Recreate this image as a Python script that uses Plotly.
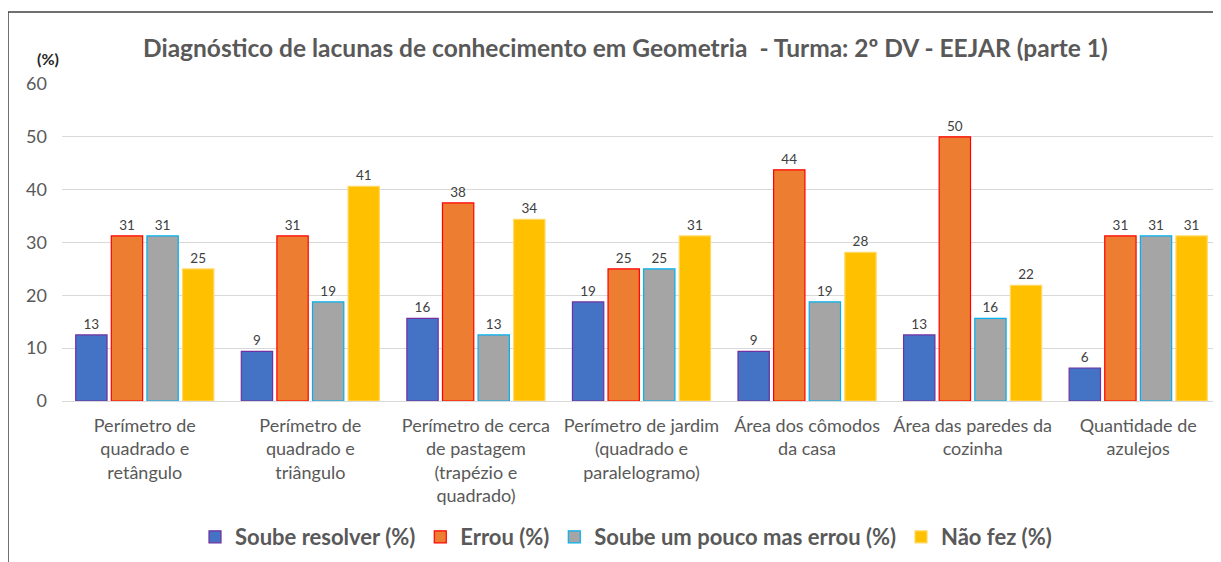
import plotly.graph_objects as go

categories = [
    "Perímetro de<br>quadrado e<br>retângulo",
    "Perímetro de<br>quadrado e<br>triângulo",
    "Perímetro de cerca<br>de pastagem<br>(trapézio e<br>quadrado)",
    "Perímetro de jardim<br>(quadrado e<br>paralelogramo)",
    "Área dos cômodos<br>da casa",
    "Área das paredes da<br>cozinha",
    "Quantidade de<br>azulejos",
]
soube = [12.5, 9.375, 15.625, 18.75, 9.375, 12.5, 6.25]
errou = [31.25, 31.25, 37.5, 25.0, 43.75, 50.0, 31.25]
pouco = [31.25, 18.75, 12.5, 25.0, 18.75, 15.625, 31.25]
naofez = [25.0, 40.625, 34.375, 31.25, 28.125, 21.875, 31.25]

series = [
    ("Soube resolver (%)", soube, "#4472C4", "#7030A0"),
    ("Errou (%)", errou, "#ED7D31", "#FF0000"),
    ("Soube um pouco mas errou (%)", pouco, "#A5A5A5", "#00B0F0"),
    ("Não fez (%)", naofez, "#FFC000", "#FFD966"),
]

FONT = "Lato"
GRAY = "#595959"

fig = go.Figure()
for name, vals, fill, line in series:
    fig.add_trace(go.Bar(
        name=name, x=list(range(len(categories))), y=vals,
        marker=dict(color=fill, line=dict(color=line, width=1.2)),
        text=[f"{round(v + 1e-9):.0f}" for v in vals],
        textposition="outside", cliponaxis=False,
        textfont=dict(family=FONT, size=13.5, color="#404040"),
    ))

# page offset (body margin) compensation
OFF = 8
W, H = 1221 - OFF, 562 - OFF
L = 62 - OFF
T = 84 - OFF
R = 0
B = H - (401 - OFF)
pw, ph = W - L - R, H - T - B

def px(x):
    return (x - OFF - L) / pw

def py(y):
    return (H - B - (y - OFF)) / ph

fig.update_layout(
    width=W, height=H,
    margin=dict(l=L, r=R, t=T, b=B, autoexpand=False),
    paper_bgcolor="white", plot_bgcolor="white",
    barmode="group", bargap=0.14, bargroupgap=0.12,
    font=dict(family=FONT, color=GRAY),
    showlegend=True,
    legend=dict(orientation="h", x=px(626), xanchor="center", y=py(537), yanchor="middle",
                font=dict(family=FONT, size=22, color=GRAY, weight="bold"),
                itemwidth=30, traceorder="normal"),
    xaxis=dict(tickmode="array", tickvals=list(range(len(categories))), ticktext=categories,
               tickfont=dict(family=FONT, size=18, color=GRAY), showgrid=False,
               showline=False, ticks="", range=[-0.5, len(categories) - 0.5],
               ticklabelstandoff=12, automargin=False),
    yaxis=dict(range=[0, 60], dtick=10, showgrid=True, gridcolor="#D9D9D9", gridwidth=1,
               zeroline=True, zerolinecolor="#D9D9D9", zerolinewidth=1,
               tickfont=dict(family=FONT, size=18, color=GRAY), ticks="", ticklabelstandoff=14,
               automargin=False),
    annotations=[
        dict(text="<b>Diagnóstico de lacunas de conhecimento em Geometria  - Turma: 2º DV - EEJAR (parte 1)</b>",
             x=px(625), y=py(47), xref="paper", yref="paper", showarrow=False,
             font=dict(family=FONT, size=24.5, color=GRAY), xanchor="center", yanchor="middle"),
        dict(text="<b>(%)</b>", x=px(48), y=py(58), xref="paper", yref="paper", showarrow=False,
             font=dict(family=FONT, size=16, color="#262626"), xanchor="center", yanchor="middle"),
    ],
    shapes=[
        dict(type="line", xref="paper", yref="paper", x0=px(8), x1=px(8), y0=py(12), y1=py(600),
             line=dict(color="#404040", width=1.5)),
        dict(type="line", xref="paper", yref="paper", x0=px(8), x1=px(1300), y0=py(12), y1=py(12),
             line=dict(color="#404040", width=1.5)),
    ],
)

fig.write_html("out.html")
